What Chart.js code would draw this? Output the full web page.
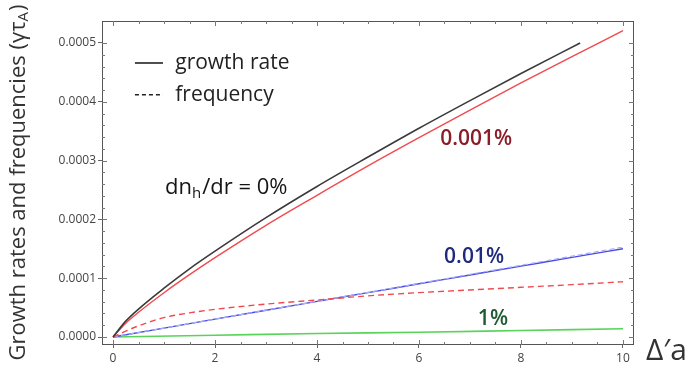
<html>
<head>
<meta http-equiv="Content-Type" content="text/html; charset=utf-8"/>
<title>growth rates</title>
<style>
  body { margin: 0; background: #fff; }
  #wrap { width: 692px; height: 369px; }
</style>
</head>
<body>
<div id="wrap"><canvas id="czart" width="692" height="369"></canvas></div>

<script src="https://cdn.jsdelivr.net/npm/chart.js@4.4.1/dist/chart.umd.min.js"></script>
<script type="text/javascript">

// Δ'a values and curves
var blackX      = [0, 0.25, 0.5, 1, 1.5, 2, 3, 4, 5, 6, 7, 8, 9.16];
var growth0     = [0, 0.000027, 0.0000475, 0.000083, 0.000116, 0.000146, 0.000203, 0.000256, 0.000306, 0.000355, 0.000402, 0.000448, 0.0005];

var redX        = [0, 0.25, 0.5, 1, 1.5, 2, 3, 4, 5, 6, 7, 8, 9, 10];
var growth001   = [0, 0.0000235, 0.000042, 0.0000753, 0.000106, 0.000135, 0.00019, 0.000241, 0.000291, 0.000339, 0.000386, 0.000432, 0.000477, 0.000521];
var freq001     = [0, 0.000010, 0.000019, 0.000033, 0.000041, 0.000047, 0.000056, 0.000063, 0.000070, 0.0000755, 0.000080, 0.0000845, 0.000089, 0.000094];

var blueX       = [0, 1, 2, 3, 4, 5, 6, 7, 8, 9, 10];
var growth01    = [0, 0.0000152, 0.0000304, 0.0000455, 0.0000605, 0.0000755, 0.0000905, 0.0001055, 0.0001205, 0.0001355, 0.00015];
var freq01      = [0, 0.0000152, 0.0000304, 0.0000456, 0.0000607, 0.0000758, 0.0000912, 0.0001065, 0.000122, 0.0001375, 0.000153];

var greenX      = [0, 2, 4, 6, 8, 10];
var growth1     = [0, 0.000003, 0.000006, 0.000008, 0.000011, 0.000014];

var xTicks = [0, 2, 4, 6, 8, 10];
var yTicks = [0, 0.0001, 0.0002, 0.0003, 0.0004, 0.0005];

function pts(xs, ys)
{
    var out = [];
    for (var i = 0; i < xs.length; ++i) out.push({x: xs[i], y: ys[i]});
    return out;
}

var FONT = "'Open Sans', 'Noto Sans', sans-serif";

// labels drawn in data coordinates
var NOTES = [
    {text: "0.001%", x: 7.12, y: 0.000337, color: "#8a1d27", size: 21, align: "center"},
    {text: "0.01%",  x: 7.08, y: 0.000136, color: "#1d2a7e", size: 21, align: "center"},
    {text: "1%",     x: 7.45, y: 0.0000306, color: "#1d5b30", size: 21, align: "center"}
];

var opisy = {
    id: "opisy",
    afterDatasetsDraw: function(chart) {
        var ctx = chart.ctx;
        var xs = chart.scales.x, ys = chart.scales.y;
        var a = chart.chartArea;
        ctx.save();

        // frame
        ctx.strokeStyle = "#555";
        ctx.lineWidth = 1;
        ctx.strokeRect(Math.round(a.left) + 0.5, Math.round(a.top) + 0.5,
                       Math.round(a.right - a.left) - 1, Math.round(a.bottom - a.top) - 1);

        // inward ticks
        ctx.strokeStyle = "#777";
        for (var v = 0; v <= 10.001; v += 0.5) {
            var px = Math.round(xs.getPixelForValue(v)) + 0.5;
            var len = (Math.abs(v % 2) < 0.01) ? 5 : 3;
            ctx.beginPath();
            ctx.moveTo(px, a.bottom); ctx.lineTo(px, a.bottom - len);
            ctx.moveTo(px, a.top); ctx.lineTo(px, a.top + len);
            ctx.stroke();
        }
        for (var k = 0; k <= 25; ++k) {
            var py = Math.round(ys.getPixelForValue(k * 0.00002)) + 0.5;
            var len2 = (k % 5 == 0) ? 5 : 3;
            ctx.beginPath();
            ctx.moveTo(a.left, py); ctx.lineTo(a.left + len2, py);
            ctx.moveTo(a.right, py); ctx.lineTo(a.right - len2, py);
            ctx.stroke();
        }

        ctx.textBaseline = "middle";
        for (var i = 0; i < NOTES.length; ++i) {
            var n = NOTES[i];
            ctx.font = "600 " + n.size + "px " + FONT;
            ctx.fillStyle = n.color;
            ctx.textAlign = n.align;
            ctx.fillText(n.text, xs.getPixelForValue(n.x), ys.getPixelForValue(n.y));
        }

        // dn_h/dr = 0%
        var x0 = xs.getPixelForValue(1.02), y0 = ys.getPixelForValue(0.000253);
        ctx.fillStyle = "#151515";
        ctx.textAlign = "left";
        ctx.font = "22px " + FONT;
        ctx.fillText("dn", x0, y0);
        var w = ctx.measureText("dn").width;
        ctx.font = "15px " + FONT;
        ctx.fillText("h", x0 + w, y0 + 6);
        w += ctx.measureText("h").width + 1;
        ctx.font = "22px " + FONT;
        ctx.fillText("/dr = 0%", x0 + w, y0);

        // legend
        var lx1 = xs.getPixelForValue(0.43), lx2 = xs.getPixelForValue(0.98);
        var tx = xs.getPixelForValue(1.22);
        var ly1 = ys.getPixelForValue(0.000466), ly2 = ys.getPixelForValue(0.000412);
        ctx.strokeStyle = "#222";
        ctx.lineWidth = 1.6;
        ctx.beginPath(); ctx.moveTo(lx1, ly1); ctx.lineTo(lx2, ly1); ctx.stroke();
        ctx.setLineDash([4, 3]);
        ctx.beginPath(); ctx.moveTo(lx1, ly2); ctx.lineTo(lx2, ly2); ctx.stroke();
        ctx.setLineDash([]);
        ctx.font = "21px " + FONT;
        ctx.fillStyle = "#222";
        ctx.fillText("growth rate", tx, ly1);
        ctx.fillText("frequency", tx, ly2);

        // axis titles
        ctx.font = "30px " + FONT;
        ctx.fillStyle = "#333";
        ctx.fillText("\u0394\u2032a", a.right + 12, a.bottom + 6);

        ctx.translate(19, (a.top + a.bottom) / 2);
        ctx.rotate(-Math.PI / 2);
        ctx.font = "22px " + FONT;
        var t1 = "Growth rates and frequencies (\u03b3\u03c4";
        var w1 = ctx.measureText(t1).width;
        ctx.font = "15px " + FONT;
        var w2 = ctx.measureText("A").width;
        ctx.font = "22px " + FONT;
        var w3 = ctx.measureText(")").width;
        var sx = -(w1 + w2 + w3) / 2;
        ctx.fillText(t1, sx, 0);
        ctx.font = "15px " + FONT;
        ctx.fillText("A", sx + w1, 5);
        ctx.font = "22px " + FONT;
        ctx.fillText(")", sx + w1 + w2 + 1, 0);

        ctx.restore();
    }
};

var ctx = document.getElementById("czart").getContext("2d");
var wykres = new Chart(ctx, {
    type: "line",
    data: {
        datasets: [
            {label: "0%", data: pts(blackX, growth0), borderColor: "#3a3a3a", borderWidth: 1.6},
            {label: "0.001% growth", data: pts(redX, growth001), borderColor: "#ef4b4f", borderWidth: 1.4},
            {label: "0.001% freq", data: pts(redX, freq001), borderColor: "#ef4b4f", borderWidth: 1.4, borderDash: [6, 4]},
            {label: "0.01% freq", data: pts(blueX, freq01), borderColor: "#aab0f2", borderWidth: 1.2, borderDash: [5, 3]},
            {label: "0.01% growth", data: pts(blueX, growth01), borderColor: "#4848e6", borderWidth: 1.4},
            {label: "1% growth", data: pts(greenX, growth1), borderColor: "#58d458", borderWidth: 1.6}
        ]
    },
    options: {
        responsive: false,
        animation: false,
        parsing: false,
        cubicInterpolationMode: "monotone",
        elements: { point: { radius: 0 } },
        layout: { padding: { top: 21, right: 58, left: 0, bottom: 0 } },
        plugins: { legend: { display: false }, tooltip: { enabled: false } },
        scales: {
            x: {
                type: "linear",
                min: -0.216, max: 10.216,
                afterBuildTicks: function(s) { s.ticks = xTicks.map(function(v) { return {value: v}; }); },
                afterFit: function(s) { s.height = 24; },
                grid: { drawOnChartArea: false, tickLength: 3, color: "#666" },
                border: { display: false },
                ticks: { color: "#444", padding: 3, maxRotation: 0, font: { family: FONT, size: 12 } }
            },
            y: {
                min: -0.0000136, max: 0.0005374,
                afterBuildTicks: function(s) { s.ticks = yTicks.map(function(v) { return {value: v}; }); },
                afterFit: function(s) { s.width = 102; },
                grid: { drawOnChartArea: false, tickLength: 4, color: "#666" },
                border: { display: false },
                ticks: {
                    color: "#444", padding: 2, font: { family: FONT, size: 12 },
                    callback: function(v) { return v.toFixed(4); }
                }
            }
        }
    },
    plugins: [opisy]
});

</script>
</body>
</html>
